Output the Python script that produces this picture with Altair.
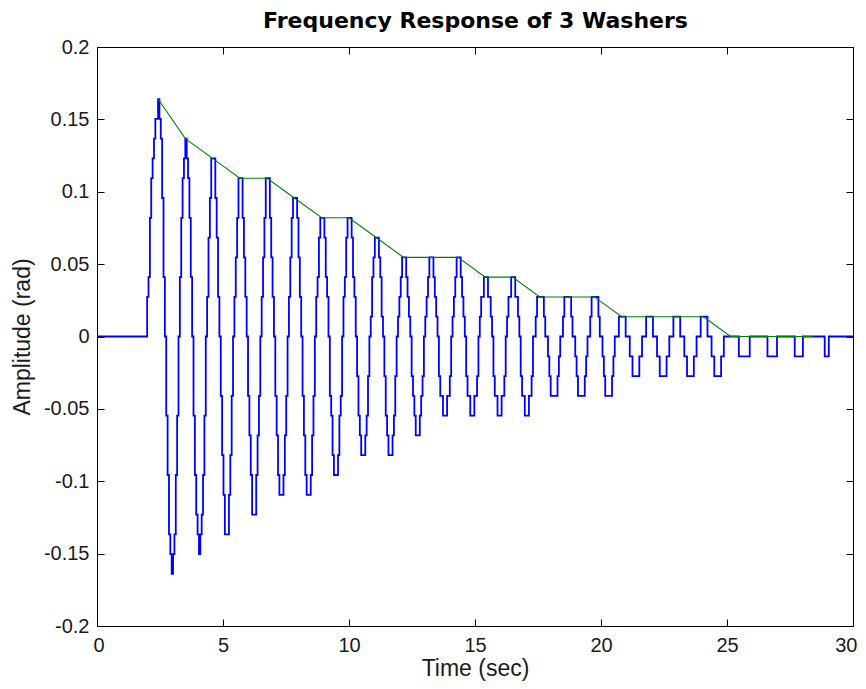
import altair as alt
import pandas as pd

# Quantization step of the measured signal (rad)
Q = 0.01367
# Sampled (zero-order-hold) signal: start time and sample spacing (sec)
T_START = 1.990
DT = 0.0541

# Levels (in quantization steps)
LEVELS_PRE = [2, 3, 6, 8, 9, 10, 11, 11]
CYCLES = [
    [12, 11, 10, 7, 3, 0, -4, -7, -10, -11, -12, -11, -10, -7, -4, 0, 3, 6, 8, 9],
    [10, 9, 8, 6, 3, 0, -4, -7, -9, -10, -11, -10, -9, -7, -4, 0, 2, 5, 7, 9],
    [9, 9, 7, 5, 2, 0, -3, -6, -8, -10, -10, -10, -8, -6, -3, 0, 2, 4, 6, 8],
    [8, 8, 6, 4, 2, 0, -3, -5, -7, -9, -9, -9, -7, -5, -3, 0, 2, 4, 6, 8],
    [8, 8, 6, 4, 2, 0, -3, -5, -7, -8, -8, -8, -7, -5, -3, 0, 2, 4, 6, 7],
    [7, 7, 6, 4, 2, 0, -3, -5, -7, -8, -8, -8, -7, -5, -3, 0, 2, 3, 5, 6],
    [6, 6, 5, 3, 2, 0, -3, -4, -6, -7, -7, -7, -6, -4, -3, 0, 2, 3, 5, 6],
    [6, 6, 5, 3, 2, 0, -2, -4, -5, -6, -6, -6, -5, -4, -2, 0, 1, 3, 4, 5],
    [5, 5, 4, 3, 1, 0, -2, -4, -5, -6, -6, -6, -5, -4, -2, 0, 1, 2, 3, 4],
    [4, 4, 3, 2, 1, 0, -2, -3, -4, -5, -5, -5, -4, -3, -2, 0, 1, 2, 3, 4],
    [4, 4, 3, 2, 1, 0, -2, -3, -3, -4, -4, -4, -3, -3, -2, 0, 1, 2, 3, 4],
    [4, 4, 3, 2, 1, 0, -2, -3, -3, -4, -4, -4, -3, -3, -2, 0, 1, 2, 2, 3],
    [3, 3, 2, 2, 1, 0, -2, -3, -3, -4, -4, -4, -3, -3, -2, 0, 1, 2, 2, 3],
    [3, 3, 2, 2, 1, 0, -2, -3, -3, -4, -4, -4, -3, -3, -2, 0, 0, 1, 2, 2],
    [2, 2, 2, 1, 0, 0, -1, -2, -3, -3, -3, -3, -3, -2, -1, 0, 0, 1, 2, 2],
    [2, 2, 2, 1, 0, 0, -1, -2, -3, -3, -3, -3, -3, -2, -1, 0, 0, 1, 2, 2],
    [2, 2, 2, 1, 0, 0, -1, -2, -3, -3, -3, -3, -3, -2, -1, 0, 0, 0, 1, 1],
    [1, 1, 1, 0, 0, 0, -1, -1, -2, -2, -2, -2, -2, -1, -1, 0, 0, 0, 1, 1],
    [1, 1, 1, 0, 0, 0, -1, -1, -2, -2, -2, -2, -2, -1, -1, 0, 0, 0, 1, 1],
    [1, 1, 1, 0, 0, 0, -1, -1, -2, -2, -2, -2, -2, -1, -1, 0, 0, 0, 1, 1],
    [1, 1, 1, 0, 0, 0, -1, -1, -2, -2, -2, -2, -2, -1, -1, 0, 0, 0, 0, 0],
    [0, 0, 0, 0, 0, 0, -1, -1, -1, -1, -1, -1, -1, -1, 0, 0, 0, 0, 0, 0],
    [0, 0, 0, 0, 0, 0, 0, -1, -1, -1, -1, -1, -1, -1, 0, 0, 0, 0, 0, 0],
    [0, 0, 0, 0, 0, 0, 0, -1, -1, -1, -1, -1, -1, 0, 0, 0, 0, 0, 0, 0],
    [0, 0, 0, 0, 0, 0, 0, 0, 0, -1, -1, -1, 0, 0, 0, 0, 0, 0, 0, 0],
]

# Envelope (green) through the successive positive peaks
PEAK_TIMES = [2.423, 3.505, 4.587, 5.669, 6.751, 7.833, 8.915, 9.997, 11.079,
              12.161, 13.243, 14.325, 15.407, 16.489, 17.571, 18.653, 19.735,
              20.817, 21.899, 22.981, 24.063, 25.145, 26.227, 27.309, 28.391]
ENV_LEVELS = [12, 10, 9, 8, 8, 7, 6, 6, 5, 4, 4, 4, 3, 3, 2, 2, 2, 1, 1, 1, 1,
              0, 0, 0, 0]

X_TICKS = [0, 5, 10, 15, 20, 25, 30]
Y_TICKS = [-0.2, -0.15, -0.1, -0.05, 0, 0.05, 0.1, 0.15, 0.2]
TITLE = "Frequency Response of 3 Washers"

levels_all = LEVELS_PRE + [v for cyc in CYCLES for v in cyc]
t_blue = [0.0] + [T_START + n * DT for n in range(len(levels_all))] + [30.0]
y_blue = [0.0] + [lv * Q for lv in levels_all] + [0.0]
blue_df = pd.DataFrame({"t": t_blue, "y": y_blue})

green_df = pd.DataFrame({"t": PEAK_TIMES, "y": [lv * Q for lv in ENV_LEVELS]})

xscale = alt.Scale(domain=[0, 30], nice=False, zero=False)
yscale = alt.Scale(domain=[-0.2, 0.2], nice=False, zero=False)

common_axis = dict(domain=False, grid=False, offset=-7, tickSize=7,
                   tickColor="black", tickWidth=1, labelOverlap=False)

blue = alt.Chart(blue_df).mark_line(
    interpolate="step-after", color="#0000ff", strokeWidth=1.8, clip=True
).encode(
    x=alt.X("t:Q", scale=xscale,
            axis=alt.Axis(values=X_TICKS, orient="bottom", title="Time (sec)",
                          labelFlush=True, labelFlushOffset=4,
                          labelPadding=9, titlePadding=2, **common_axis)),
    y=alt.Y("y:Q", scale=yscale,
            axis=alt.Axis(values=Y_TICKS, orient="left", title="Amplitude (rad)",
                          labelExpr="'' + datum.value", labelPadding=8,
                          labelFlush=False, titlePadding=9, **common_axis)),
)

# The figure title is carried by the top (box) axis, centred over the plot
green = alt.Chart(green_df).mark_line(
    color="#008000", strokeWidth=1.1, clip=True
).encode(
    x=alt.X("t:Q", scale=xscale,
            axis=alt.Axis(values=X_TICKS, orient="top", labels=False,
                          title=TITLE, titleFont="DejaVu Sans",
                          titleFontSize=22, titleFontWeight="bold",
                          titleColor="black", titlePadding=14,
                          **common_axis)),
    y=alt.Y("y:Q", scale=yscale,
            axis=alt.Axis(values=Y_TICKS, orient="right", labels=False, title=None,
                          **common_axis)),
)

chart = alt.layer(blue, green).resolve_axis(
    x="independent", y="independent"
).properties(
    width=756,
    height=579,
    autosize=alt.AutoSizeParams(type="none"),
    padding={"left": 89, "top": 39, "right": 5, "bottom": 55},
).configure_view(
    stroke="black", strokeWidth=1
).configure_axis(
    labelFont="Liberation Sans", labelFontSize=20, labelColor="#1a1a1a",
    titleFont="Liberation Sans", titleFontSize=23, titleFontWeight="normal",
    titleColor="#1a1a1a",
)

chart.save("out.html", embed_options={"renderer": "svg", "actions": False})
